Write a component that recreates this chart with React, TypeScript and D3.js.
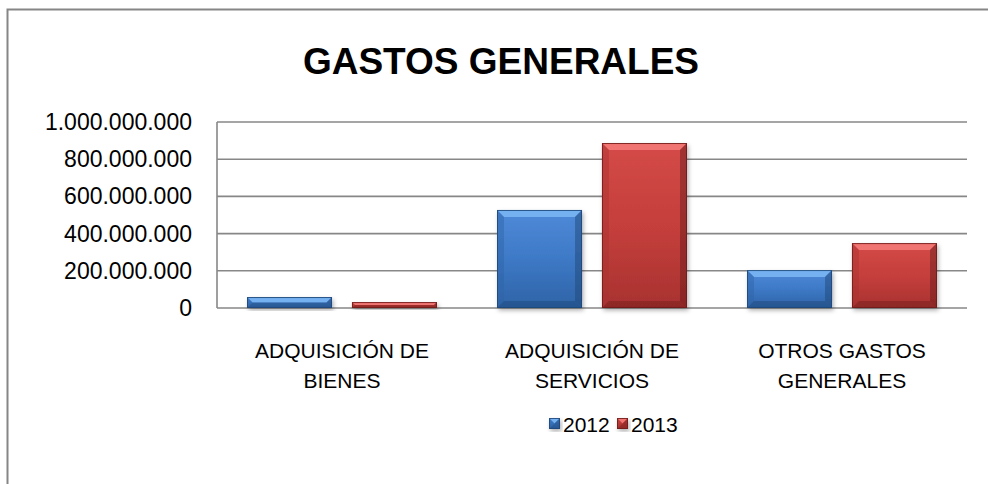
import React from "react";
import * as d3 from "d3";

const categories = [["ADQUISICIÓN DE", "BIENES"], ["ADQUISICIÓN DE", "SERVICIOS"], ["OTROS GASTOS", "GENERALES"]];
const seriesNames = ["2012", "2013"];
const values2012 = [59000000, 527000000, 204000000];
const values2013 = [32000000, 887000000, 349000000];
const yTicks = [0, 200000000, 400000000, 600000000, 800000000, 1000000000];

const palettes: Record<string, { main: string; light: string; top: string; dark: string; side: string }> = {
  "2012": { main: "#3d79c6", light: "#4f8ad8", top: "#74b0f0", dark: "#1f4778", side: "#2f63a6" },
  "2013": { main: "#c53f3c", light: "#d44a47", top: "#f07472", dark: "#6e1c1b", side: "#a83230" },
};

const W = 988;
const H = 484;
const FONT = "'Liberation Sans', Arial, sans-serif";

function BevelBar({ x, y, w, h, s }: { x: number; y: number; w: number; h: number; s: string }) {
  const p = palettes[s];
  const b = Math.min(7, h / 2, w / 2);
  const gid = `g${s}`;
  return (
    <g filter="url(#shadow)">
      <rect x={x} y={y} width={w} height={h} fill={`url(#${gid})`} />
      <polygon points={`${x},${y} ${x + w},${y} ${x + w - b},${y + b} ${x + b},${y + b}`} fill={p.top} />
      <polygon points={`${x},${y} ${x + b},${y + b} ${x + b},${y + h - b} ${x},${y + h}`} fill={p.side} opacity={0.45} />
      <polygon points={`${x + w},${y} ${x + w - b},${y + b} ${x + w - b},${y + h - b} ${x + w},${y + h}`} fill={p.dark} opacity={0.5} />
      <polygon points={`${x},${y + h} ${x + b},${y + h - b} ${x + w - b},${y + h - b} ${x + w},${y + h}`} fill={p.dark} opacity={0.45} />
      <rect x={x + 0.5} y={y + 0.5} width={w - 1} height={h - 1} fill="none" stroke={p.dark} strokeWidth={1} opacity={0.85} />
    </g>
  );
}

export default function App() {
  const plotLeft = 217;
  const plotRight = 967;
  const plotTop = 122;
  const plotBottom = 308;

  const x0 = d3.scaleBand<number>().domain(d3.range(categories.length)).range([plotLeft, plotRight]).paddingInner(0.24).paddingOuter(0.12);
  const x1 = d3.scaleBand<string>().domain(seriesNames).range([0, x0.bandwidth()]).paddingInner(0.19);
  const y = d3.scaleLinear().domain([0, 1000000000]).range([plotBottom, plotTop]);
  const fmt = (v: number) => d3.format(",")(v).replace(/,/g, ".");
  const seriesValues: Record<string, number[]> = { "2012": values2012, "2013": values2013 };
  const bandStep = (plotRight - plotLeft) / categories.length;

  return (
    <svg width={W} height={H} style={{ position: "absolute", left: 0, top: 0 }}>
      <defs>
        {seriesNames.map((s) => (
          <linearGradient key={s} id={`g${s}`} x1="0" y1="0" x2="0" y2="1">
            <stop offset="0" stopColor={palettes[s].light} />
            <stop offset="0.5" stopColor={palettes[s].main} />
            <stop offset="1" stopColor={palettes[s].side} />
          </linearGradient>
        ))}
        <filter id="shadow" x="-20%" y="-20%" width="140%" height="140%">
          <feDropShadow dx="1.5" dy="2.5" stdDeviation="2" floodColor="#000" floodOpacity="0.3" />
        </filter>
      </defs>
      <rect x={0} y={0} width={W} height={H} fill="#fff" />
      <rect x={7.5} y={9.5} width={W + 20} height={H + 20} fill="none" stroke="#868686" strokeWidth={2} />

      <text x={501} y={74} textAnchor="middle" fontFamily={FONT} fontWeight="bold" fontSize={37} fill="#000">
        GASTOS GENERALES
      </text>

      {yTicks.map((t) => (
        <line key={t} x1={plotLeft} x2={plotRight} y1={y(t)} y2={y(t)} stroke="#878787" strokeWidth={1.6} />
      ))}
      <line x1={plotLeft} x2={plotLeft} y1={plotTop} y2={plotBottom} stroke="#878787" strokeWidth={1.6} />

      {yTicks.map((t) => (
        <text key={t} x={192} y={y(t) + 8} textAnchor="end" fontFamily={FONT} fontSize={23} fill="#000">
          {fmt(t)}
        </text>
      ))}

      {categories.map((_, i) =>
        seriesNames.map((s) => {
          const v = seriesValues[s][i];
          const bx = (x0(i) as number) + (x1(s) as number);
          const by = y(v);
          return <BevelBar key={`${i}-${s}`} x={bx} y={by} w={x1.bandwidth()} h={plotBottom - by} s={s} />;
        })
      )}

      {categories.map((lines, i) => {
        const cx = plotLeft + bandStep * (i + 0.5);
        return (
          <text key={i} x={cx} textAnchor="middle" fontFamily={FONT} fontSize={21} fill="#000">
            {lines.map((l, j) => (
              <tspan key={j} x={cx} y={358 + j * 30}>
                {l}
              </tspan>
            ))}
          </text>
        );
      })}

      {seriesNames.map((s, i) => {
        const lx = 549 + i * 68;
        return (
          <g key={s}>
            <BevelBar x={lx} y={418} w={11} h={11} s={s} />
            <text x={lx + 14} y={432} fontFamily={FONT} fontSize={21} fill="#000">
              {s}
            </text>
          </g>
        );
      })}
    </svg>
  );
}
